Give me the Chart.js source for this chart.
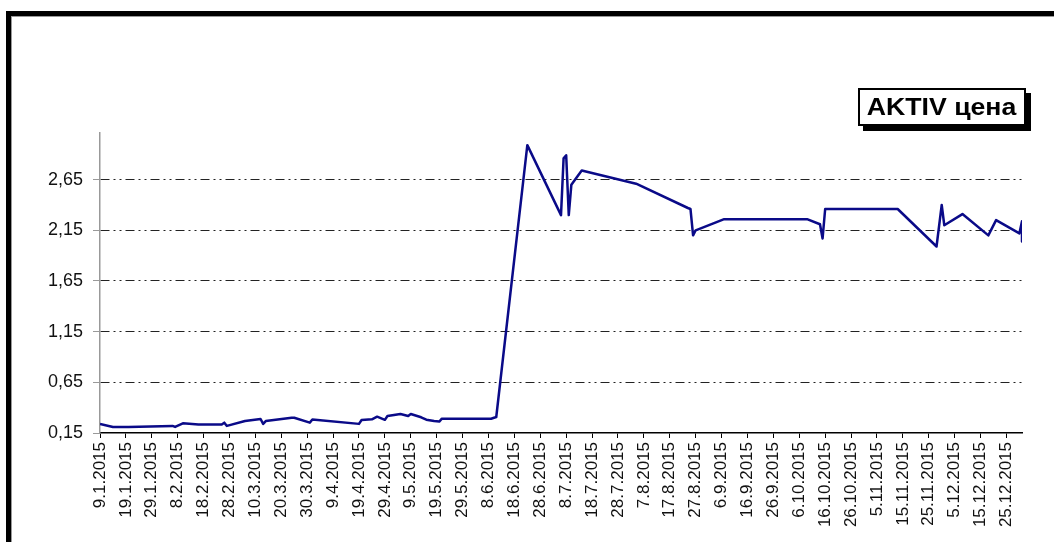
<!DOCTYPE html>
<html>
<head>
<meta charset="utf-8">
<script src="https://cdn.jsdelivr.net/npm/chart.js@4.4.1/dist/chart.umd.min.js"></script>
<style>
  html, body { margin: 0; padding: 0; background: #fff; overflow: hidden; }
  #frame {
    position: absolute; left: 6px; top: 11px; width: 1100px; height: 600px;
    border-left: 5px solid #000; border-top: 5px solid #000;
    box-shadow: inset 1px 1px 0 #999;
  }
  #wrap { position: absolute; left: 0; top: 0; width: 1054px; height: 542px; }
  #legendBox {
    position: absolute; left: 858px; top: 88px; width: 168px; height: 38px;
    box-sizing: border-box; border: 2px solid #000; background: #fff;
    box-shadow: 5px 5px 0 #000;
    font-family: "Liberation Sans", Arial, sans-serif; font-weight: bold; font-size: 23px;
    line-height: 34px; text-align: center; color: #000;
  }
  #legendBox span { display: inline-block; transform: scaleX(1.16); }
</style>
</head>
<body>
<div id="frame"></div>
<div id="wrap"><canvas id="myChart" width="1054" height="542"></canvas></div>
<div id="legendBox"><span>AKTIV цена</span></div>
<script>
const seriesName = 'AKTIV цена';

const dates = [
    '9.1.2015', '14.1.2015', '20.1.2015', '6.2.2015', '7.2.2015', '10.2.2015', '16.2.2015',
    '25.2.2015', '26.2.2015', '27.2.2015', '6.3.2015', '12.3.2015', '13.3.2015', '14.3.2015',
    '24.3.2015', '25.3.2015', '31.3.2015', '1.4.2015', '19.4.2015', '20.4.2015', '24.4.2015',
    '26.4.2015', '29.4.2015', '30.4.2015', '5.5.2015', '8.5.2015', '9.5.2015', '13.5.2015',
    '15.5.2015', '18.5.2015', '20.5.2015', '21.5.2015', '23.5.2015', '9.6.2015', '11.6.2015',
    '23.6.2015', '6.7.2015', '7.7.2015', '8.7.2015', '9.7.2015', '10.7.2015', '14.7.2015',
    '4.8.2015', '24.8.2015', '25.8.2015', '26.8.2015', '27.8.2015', '7.9.2015', '9.10.2015',
    '14.10.2015', '15.10.2015', '16.10.2015', '13.11.2015', '28.11.2015', '30.11.2015',
    '1.12.2015', '8.12.2015', '18.12.2015', '21.12.2015', '30.12.2015', '31.12.2015', '31.12.2015'
];
const prices = [
    0.24, 0.21, 0.21, 0.22, 0.21, 0.245, 0.235,
    0.234, 0.252, 0.22, 0.268, 0.288, 0.24, 0.268,
    0.30, 0.30, 0.252, 0.283, 0.24, 0.278, 0.285,
    0.311, 0.28, 0.318, 0.337, 0.318, 0.337, 0.305,
    0.281, 0.268, 0.263, 0.291, 0.291, 0.291, 0.308,
    2.99, 2.30, 2.86, 2.89, 2.30, 2.60, 2.74,
    2.61, 2.37, 2.36, 2.10, 2.15, 2.26, 2.26,
    2.21, 2.07, 2.36, 2.36, 1.99, 2.40,
    2.20, 2.31, 2.10, 2.25, 2.12, 2.24, 2.04
];

const xTickLabels = [
    '9.1.2015', '19.1.2015', '29.1.2015', '8.2.2015', '18.2.2015', '28.2.2015',
    '10.3.2015', '20.3.2015', '30.3.2015', '9.4.2015', '19.4.2015', '29.4.2015',
    '9.5.2015', '19.5.2015', '29.5.2015', '8.6.2015', '18.6.2015', '28.6.2015',
    '8.7.2015', '18.7.2015', '28.7.2015', '7.8.2015', '17.8.2015', '27.8.2015',
    '6.9.2015', '16.9.2015', '26.9.2015', '6.10.2015', '16.10.2015', '26.10.2015',
    '5.11.2015', '15.11.2015', '25.11.2015', '5.12.2015', '15.12.2015', '25.12.2015'
];
const yTicks = [0.15, 0.65, 1.15, 1.65, 2.15, 2.65];

// days since 9.1.2015
function dayOf(s) {
    const p = s.split('.').map(Number);
    return (Date.UTC(p[2], p[1] - 1, p[0]) - Date.UTC(2015, 0, 9)) / 86400000;
}

const points = dates.map((d, i) => ({ x: dayOf(d), y: prices[i] }));

const data = {
    datasets: [{
        label: seriesName,
        data: points,
        borderColor: '#0a0a88',
        backgroundColor: '#0a0a88',
        borderWidth: 2.5,
        borderJoinStyle: 'round',
        pointRadius: 0,
        tension: 0
    }]
};

const config = {
    type: 'line',
    data: data,
    options: {
        responsive: false,
        animation: false,
        devicePixelRatio: 1,
        layout: { padding: { left: 0, top: 133, right: 32, bottom: 0 } },
        plugins: { legend: { display: false }, tooltip: { enabled: false } },
        scales: {
            x: {
                type: 'linear',
                min: 0,
                max: 356,
                afterBuildTicks: s => { s.ticks = xTickLabels.map(l => ({ value: dayOf(l) })); },
                afterFit: s => { s.height = 109; },
                grid: { drawOnChartArea: false, tickLength: 5, tickColor: '#000', tickWidth: 1 },
                border: { color: '#000', width: 1.5 },
                ticks: {
                    autoSkip: false,
                    minRotation: 90,
                    maxRotation: 90,
                    padding: 4,
                    color: '#111',
                    font: { family: '"Liberation Sans", Arial, sans-serif', size: 17 },
                    callback: (v, i) => xTickLabels[i]
                }
            },
            y: {
                min: 0.15,
                max: 3.11,
                afterBuildTicks: s => { s.ticks = yTicks.map(v => ({ value: v })); },
                afterFit: s => { s.width = 100; },
                grid: {
                    color: c => (c.tick && c.tick.value === yTicks[0]) ? 'rgba(0,0,0,0)' : '#222',
                    lineWidth: 1,
                    tickLength: 7,
                    tickColor: '#999',
                    tickBorderDash: []
                },
                border: { color: '#999', width: 1.5, dash: [9, 4, 2, 4, 2, 4] },
                ticks: {
                    padding: 10,
                    color: '#111',
                    font: { family: '"Liberation Sans", Arial, sans-serif', size: 18 },
                    callback: v => v.toFixed(2).replace('.', ',')
                }
            }
        }
    }
};

const myChart = new Chart(document.getElementById('myChart'), config);
</script>
</body>
</html>
